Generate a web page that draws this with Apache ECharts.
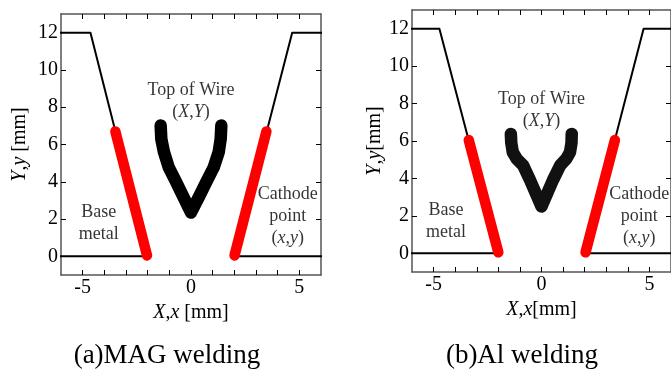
<!DOCTYPE html>
<html><head><meta charset="utf-8">
<script src="https://cdn.jsdelivr.net/npm/echarts@6/dist/echarts.min.js"></script>
<style>html,body{margin:0;padding:0;background:#fff}#c{width:671px;height:372px}</style>
</head><body><div id="c"></div>
<script>
// ---- tick values ----
const xTickValues = [-5,-4,-3,-2,-1,0,1,2,3,4,5];
const xLabelValues = [-5,0,5];
const yTickValues = [0,2,4,6,8,10,12];

// ---- (a) MAG welding ----
const magBaseLeftX  = [-6.2, -2.03, -4.64, -6.2];
const magBaseLeftY  = [0, 0, 12, 12];
const magBaseRightX = [6.2, 2.01, 4.67, 6.2];
const magBaseRightY = [0, 0, 12, 12];
const magCathLeftX  = [-2.03, -3.49];
const magCathLeftY  = [0.05, 6.7];
const magCathRightX = [2.01, 3.48];
const magCathRightY = [0.05, 6.7];
const magWireX = [-1.40, -1.37, -1.25, -1.03, -0.72, -0.40, 0, 0.40, 0.74, 1.05, 1.28, 1.37, 1.40];
const magWireY = [7.02, 6.3, 5.6, 4.78, 4.07, 3.3, 2.35, 3.27, 4.07, 4.78, 5.6, 6.3, 7.02];

// ---- (b) Al welding ----
const alBaseLeftX  = [-6.2, -2.0, -4.73, -6.2];
const alBaseLeftY  = [0, 0, 12, 12];
const alBaseRightX = [6.2, 2.04, 4.73, 6.2];
const alBaseRightY = [0, 0, 12, 12];
const alCathLeftX  = [-2.0, -3.37];
const alCathLeftY  = [0.05, 6.05];
const alCathRightX = [2.04, 3.40];
const alCathRightY = [0.05, 6.05];
const alWireX = [-1.42, -1.40, -1.33, -1.15, -0.85, -0.53, 0, 0.53, 0.87, 1.15, 1.32, 1.39, 1.40];
const alWireY = [6.38, 5.9, 5.4, 5.05, 4.7, 3.91, 2.5, 3.91, 4.7, 5.05, 5.4, 5.9, 6.38];

// ---- annotations ----
const magNotes = [[0, 8.33, 'Top of Wire\n({i|X},{i|Y})'], [-4.26, 1.79, 'Base\nmetal'], [4.47, 2.14, 'Cathode\npoint\n({i|x},{i|y})']];
const alNotes  = [[0, 7.66, 'Top of Wire\n({i|X},{i|Y})'], [-4.42, 1.70, 'Base\nmetal'], [4.53, 1.98, 'Cathode\npoint\n({i|x},{i|y})']];

const titles = ['(a)MAG welding', '(b)Al welding'];
const xNames = ['{i|X},{i|x} [mm]', '{i|X},{i|x}[mm]'];
const yNames = ['{i|Y},{i|y} [mm]', '{i|Y},{i|y}[mm]'];

const FF = '"Liberation Serif", "Times New Roman", serif';
const zip = (xs, ys) => xs.map((x, i) => [x, ys[i]]);
const rich = { i: { fontStyle: 'italic', fontFamily: FF, fontSize: 18, color: '#000', lineHeight: 22 } };
const nameRich = { i: { fontStyle: 'italic', fontFamily: FF, fontSize: 20, color: '#000' } };

const grids = [
  { left: 61, top: 14, width: 260, height: 261 },
  { left: 412, top: 10, width: 259, height: 262 }
];
const yNameGaps = [31, 25];
const axLine = { show: true, onZero: false, lineStyle: { color: '#555', width: 1.5 } };
const tick = { show: true, inside: true, length: 5, lineStyle: { color: '#000', width: 1 } };

const xAxis = [], yAxis = [];
grids.forEach((g, gi) => {
  xAxis.push({
    type: 'value', gridIndex: gi, min: -6, max: 6, position: 'bottom',
    name: xNames[gi], nameLocation: 'middle', nameGap: 28,
    nameTextStyle: { fontFamily: FF, fontSize: 20, color: '#000', rich: nameRich },
    axisLine: axLine, splitLine: { show: false },
    axisTick: Object.assign({}, tick, { customValues: xTickValues }),
    axisLabel: { customValues: xLabelValues, fontFamily: FF, fontSize: 20, color: '#000', margin: 3 }
  });
  xAxis.push({
    type: 'value', gridIndex: gi, min: -6, max: 6, position: 'top',
    axisLine: axLine, splitLine: { show: false },
    axisTick: Object.assign({}, tick, { customValues: xTickValues }),
    axisLabel: { show: false }
  });
  yAxis.push({
    type: 'value', gridIndex: gi, min: -1, max: 13, position: 'left',
    name: yNames[gi], nameLocation: 'middle', nameGap: yNameGaps[gi], nameRotate: 90,
    nameTextStyle: { fontFamily: FF, fontSize: 20, color: '#000', rich: nameRich },
    axisLine: axLine, splitLine: { show: false },
    axisTick: Object.assign({}, tick, { customValues: yTickValues }),
    axisLabel: { customValues: yTickValues, fontFamily: FF, fontSize: 20, color: '#000', margin: 3 }
  });
  yAxis.push({
    type: 'value', gridIndex: gi, min: -1, max: 13, position: 'right',
    axisLine: axLine, splitLine: { show: false },
    axisTick: Object.assign({}, tick, { customValues: yTickValues }),
    axisLabel: { show: false }
  });
});

function lineS(gi, xs, ys, color, w) {
  return {
    type: 'line', xAxisIndex: gi * 2, yAxisIndex: gi * 2, data: zip(xs, ys),
    showSymbol: false, symbol: 'none', silent: true, animation: false, clip: true,
    lineStyle: { color: color, width: w, cap: 'round', join: 'round' }
  };
}
function notesS(gi, notes) {
  return {
    type: 'scatter', xAxisIndex: gi * 2, yAxisIndex: gi * 2, data: notes,
    symbolSize: 0, silent: true, animation: false,
    label: {
      show: true, position: 'inside', formatter: p => p.data[2],
      fontFamily: FF, fontSize: 18, color: '#000', lineHeight: 22, align: 'center', rich: rich
    }
  };
}

const series = [
  lineS(0, magBaseLeftX, magBaseLeftY, '#000', 2),
  lineS(0, magBaseRightX, magBaseRightY, '#000', 2),
  lineS(0, magCathLeftX, magCathLeftY, '#ff0000', 10.5),
  lineS(0, magCathRightX, magCathRightY, '#ff0000', 10.5),
  lineS(0, magWireX, magWireY, '#000', 12.5),
  notesS(0, magNotes),
  lineS(1, alBaseLeftX, alBaseLeftY, '#000', 2),
  lineS(1, alBaseRightX, alBaseRightY, '#000', 2),
  lineS(1, alCathLeftX, alCathLeftY, '#ff0000', 10.5),
  lineS(1, alCathRightX, alCathRightY, '#ff0000', 10.5),
  lineS(1, alWireX, alWireY, '#111', 12.5),
  notesS(1, alNotes)
];

const chart = echarts.init(document.getElementById('c'), null, { renderer: 'canvas' });
chart.setOption({
  animation: false,
  backgroundColor: '#fff',
  grid: grids.map(g => Object.assign({ containLabel: false }, g)),
  xAxis: xAxis, yAxis: yAxis, series: series,
  graphic: [
    { type: 'text', x: 167, y: 356, style: { text: titles[0], font: '27px ' + FF, fill: '#000', align: 'center', verticalAlign: 'middle' } },
    { type: 'text', x: 522, y: 356, style: { text: titles[1], font: '27px ' + FF, fill: '#000', align: 'center', verticalAlign: 'middle' } }
  ]
});
</script></body></html>
